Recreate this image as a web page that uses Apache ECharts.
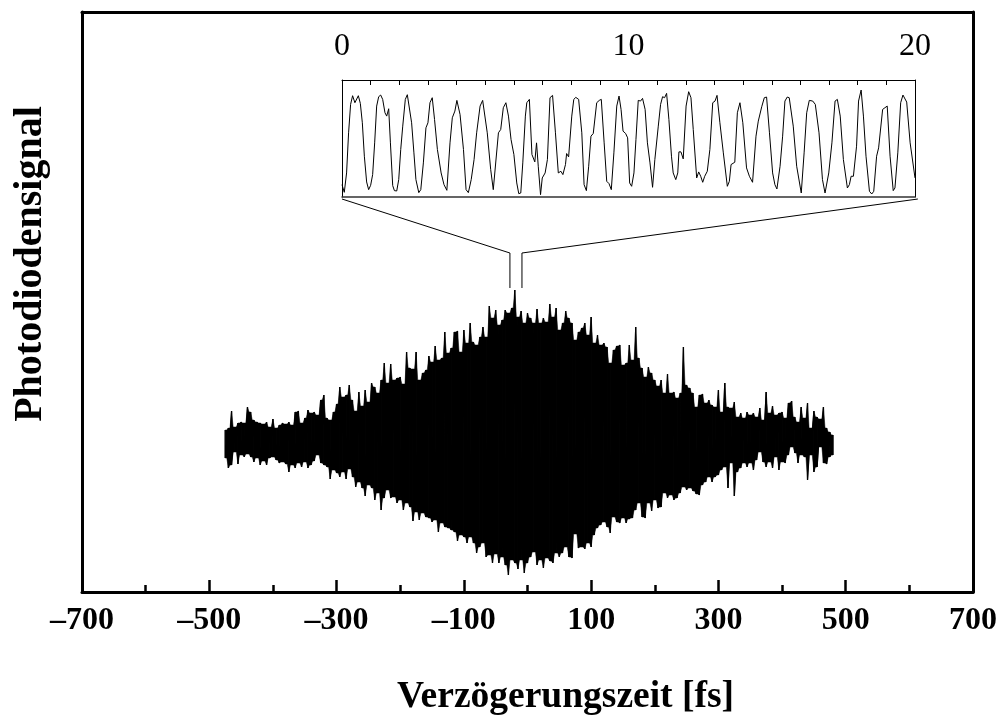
<!DOCTYPE html>
<html><head><meta charset="utf-8">
<style>html,body{margin:0;padding:0;background:#fff}#c{width:999px;height:718px}</style>
<script src="https://cdn.jsdelivr.net/npm/echarts@6/dist/echarts.min.js"></script>
</head><body><div id="c"></div>
<script>
// main trace: envelope of the fast oscillation, read every 5 fs from -475 fs to 480 fs
const startFs = -475, stepFs = 5;
const upper = [162,164,181,165,169,170,169,185,180,172,170,169,168,170,165,173,164,167,169,168,170,167,180,181,169,174,182,179,180,177,192,197,174,172,180,188,205,195,197,207,192,181,200,186,202,190,209,205,199,212,229,209,228,212,214,215,208,240,224,223,240,212,219,222,236,230,246,232,234,260,239,244,260,261,240,262,249,269,250,247,255,265,255,286,274,282,267,272,282,279,284,302,275,
281,269,279,274,269,283,269,274,270,288,275,284,262,269,281,274,269,252,260,264,269,257,275,249,257,247,249,245,229,242,246,247,227,229,247,232,265,234,224,215,225,219,212,206,212,199,218,199,200,194,199,245,207,204,199,185,197,198,189,192,187,185,202,180,209,185,184,190,175,179,174,180,177,179,175,184,172,200,179,186,177,179,180,174,189,191,175,170,185,174,189,164,181,175,173,185,164,160,157];
const lower = [134,124,127,140,128,137,135,138,135,130,134,127,131,127,134,135,132,129,130,128,120,127,124,129,125,130,124,127,131,137,129,127,125,113,122,119,115,120,113,123,115,105,110,104,96,107,104,92,99,82,94,102,94,95,89,92,82,89,85,71,80,72,79,75,74,70,72,60,69,65,64,62,60,51,57,55,49,55,49,39,45,49,35,37,29,38,29,35,27,17,32,29,23,
32,19,29,35,40,27,32,24,34,31,29,39,35,39,45,35,34,58,44,45,43,49,45,57,64,67,70,65,59,75,70,69,74,69,73,74,82,89,75,74,89,81,92,84,85,99,94,97,92,94,99,105,102,104,101,98,97,107,110,115,110,115,117,122,125,104,129,96,120,124,129,125,129,122,132,140,130,125,130,124,135,122,130,129,137,145,139,129,137,135,112,137,120,125,145,129,128,135,137];

// inset trace
const insetT = [0,0.08,0.16,0.23,0.30,0.37,0.45,0.51,0.57,0.64,0.71,0.78,0.86,0.93,1.00,1.07,1.14,1.21,1.28,1.35,1.42,1.50,1.56,1.63,1.69,1.77,1.83,1.91,1.98,2.05,2.12,2.21,2.28,2.34,2.43,2.51,2.58,2.68,2.75,2.84,2.93,3.00,3.07,3.15,3.23,3.33,3.46,3.56,3.66,3.77,3.85,3.94,4.01,4.12,4.24,4.33,4.41,4.51,4.61,4.70,4.82,4.91,4.97,5.07,5.19,5.28,5.33,5.46,5.54,5.63,5.72,5.81,5.90,6.00,6.10,6.17,6.24,6.31,6.40,6.45,6.54,6.63,6.73,6.79,6.85,6.93,6.99,7.09,7.17,7.26,7.35,7.45,7.55,7.64,7.71,7.80,7.84,7.91,8.02,8.09,8.16,8.26,8.37,8.45,8.53,8.61,8.69,8.77,8.89,8.98,9.05,9.15,9.24,9.32,9.40,9.49,9.59,9.67,9.74,9.81,9.90,9.97,10.04,
10.11,10.19,10.26,10.34,10.42,10.49,10.58,10.66,10.75,10.84,10.92,11.04,11.12,11.19,11.26,11.33,11.41,11.50,11.56,11.65,11.72,11.76,11.83,11.91,12.01,12.10,12.18,12.26,12.38,12.45,12.52,12.59,12.66,12.75,12.84,12.94,13.02,13.09,13.19,13.31,13.45,13.52,13.58,13.64,13.71,13.80,13.89,13.99,14.12,14.22,14.33,14.45,14.53,14.65,14.74,14.82,14.92,15.03,15.11,15.18,15.29,15.38,15.46,15.54,15.61,15.75,15.87,16.03,16.13,16.22,16.31,16.43,16.52,16.65,16.77,16.86,16.99,17.10,17.21,17.29,17.39,17.50,17.64,17.71,17.77,17.85,17.96,18.03,18.12,18.20,18.29,18.41,18.49,18.56,18.66,18.73,18.87,18.95,19.03,19.13,19.24,19.30,19.40,19.50,19.58,19.71,19.83,20];
const insetV = [37,14,72,192,277,303,282,284,303,280,222,122,45,22,35,67,162,272,300,305,292,252,242,264,162,34,19,18,52,142,212,292,306,307,222,132,52,13,22,102,207,222,282,297,232,142,72,37,20,162,237,257,289,247,142,22,13,52,112,192,272,289,284,192,82,22,19,192,202,267,282,242,172,127,42,10,12,102,242,282,292,127,105,162,92,7,57,72,112,297,304,192,72,77,67,97,130,120,242,292,298,292,192,37,19,92,182,190,282,289,292,162,47,40,22,132,272,302,262,197,190,177,42,
32,72,172,289,287,295,262,162,102,29,112,212,277,300,297,310,232,122,72,52,72,135,135,114,272,315,297,202,57,75,62,44,62,77,142,282,287,304,222,132,32,47,97,95,104,252,282,222,87,62,44,182,227,270,297,299,192,72,37,24,92,182,287,299,297,212,92,12,132,252,289,287,277,192,52,12,72,162,287,292,242,112,27,37,62,62,152,287,320,242,122,17,9,17,122,147,262,267,272,122,19,27,132,282,305,284,162,57];

// tick labels and annotation
const majorTicks = [-700,-500,-300,-100,100,300,500,700];
const minorTicks = [-600,-400,-200,0,200,400,600];
const insetLabels = [0,10,20];
const insetTicks = [0,1,2,3,4,5,6,7,8,9,10,11,12,13,14,15,16,17,18,19,20];
const calloutLeftFs = [-291.5,-27.6,-27.6];
const calloutRightFs = [613.4,-8.7,-8.7];
const calloutSignal = [393,339,304];

const xTitle = 'Verzögerungszeit [fs]';
const yTitle = 'Photodiodensignal';
const dash = v => String(v).replace('-', '–');
const serif = '"Liberation Serif","Times New Roman",serif';

// zigzag signal line
const zig = [];
const xs = upper.map((_, i) => startFs + i * stepFs);
xs.forEach((x, i) => { zig.push([x, upper[i]]); zig.push([x, lower[i]]); });
// solid body between neighbouring oscillations
const core = [];
for (let i = 0; i < xs.length - 1; i++) {
  core.push([xs[i], xs[i + 1], lower[i], upper[i], lower[i + 1], upper[i + 1]]);
}

const chart = echarts.init(document.getElementById('c'), null, { renderer: 'canvas' });
chart.setOption({
  backgroundColor: '#fff',
  animation: false,
  grid: [
    { left: 82, right: 26, top: 12, bottom: 126, outerBoundsMode: 'none', show: false },
    { left: 342, top: 80, width: 573, height: 117, outerBoundsMode: 'none', show: false }
  ],
  xAxis: [
    { gridIndex: 0, type: 'value', min: -700, max: 700, position: 'bottom', splitLine: { show: false },
      axisLine: { show: true, onZero: false, lineStyle: { color: '#000', width: 3 } },
      axisTick: { show: true, inside: true, length: 12, customValues: majorTicks, lineStyle: { color: '#000', width: 2.5 } },
      axisLabel: { show: true, customValues: majorTicks, formatter: dash, margin: 13, color: '#000', fontFamily: serif, fontWeight: 'bold', fontSize: 32 },
      name: xTitle, nameLocation: 'middle', nameGap: 86,
      nameTextStyle: { color: '#000', fontFamily: serif, fontWeight: 'bold', fontSize: 37.5, padding: [0, 0, 0, 76] } },
    { gridIndex: 0, type: 'value', min: -700, max: 700, position: 'bottom', splitLine: { show: false },
      axisLine: { show: false, onZero: false }, axisLabel: { show: false },
      axisTick: { show: true, inside: true, length: 7, customValues: minorTicks, lineStyle: { color: '#000', width: 2.5 } } },
    { gridIndex: 0, type: 'value', min: -700, max: 700, position: 'top', splitLine: { show: false },
      axisLine: { show: true, onZero: false, lineStyle: { color: '#000', width: 3 } }, axisLabel: { show: false }, axisTick: { show: false } },
    { gridIndex: 1, type: 'value', min: 0, max: 20, position: 'top', splitLine: { show: false },
      axisLine: { show: true, onZero: false, lineStyle: { color: '#000', width: 1 } },
      axisTick: { show: true, inside: true, length: 5, customValues: insetTicks, lineStyle: { color: '#000', width: 1 } },
      axisLabel: { show: true, customValues: insetLabels, margin: 17, color: '#000', fontFamily: serif, fontSize: 32 } },
    { gridIndex: 1, type: 'value', min: 0, max: 20, position: 'bottom', splitLine: { show: false },
      axisLine: { show: true, onZero: false, lineStyle: { color: '#333', width: 1.5 } }, axisTick: { show: false }, axisLabel: { show: false } }
  ],
  yAxis: [
    { gridIndex: 0, type: 'value', min: 0, max: 580, position: 'left', splitLine: { show: false },
      axisLine: { show: true, onZero: false, lineStyle: { color: '#000', width: 3 } }, axisTick: { show: false }, axisLabel: { show: false },
      name: yTitle, nameLocation: 'middle', nameGap: 31,
      nameTextStyle: { color: '#000', fontFamily: serif, fontWeight: 'bold', fontSize: 40, padding: [0, 0, 0, 76] } },
    { gridIndex: 0, type: 'value', min: 0, max: 580, position: 'right', splitLine: { show: false },
      axisLine: { show: true, onZero: false, lineStyle: { color: '#000', width: 3 } }, axisTick: { show: false }, axisLabel: { show: false } },
    { gridIndex: 1, type: 'value', min: 0, max: 350, position: 'left', splitLine: { show: false },
      axisLine: { show: true, onZero: false, lineStyle: { color: '#000', width: 1 } }, axisTick: { show: false }, axisLabel: { show: false } },
    { gridIndex: 1, type: 'value', min: 0, max: 350, position: 'right', splitLine: { show: false },
      axisLine: { show: true, onZero: false, lineStyle: { color: '#000', width: 1 } }, axisTick: { show: false }, axisLabel: { show: false } }
  ],
  series: [
    { type: 'custom', xAxisIndex: 0, yAxisIndex: 0, silent: true, data: core, encode: { x: [0, 1], y: [2, 3, 4, 5] },
      renderItem: (p, api) => {
        const x0 = api.value(0), x1 = api.value(1), mid = (x0 + x1) / 2;
        const lo0 = api.value(2), hi0 = api.value(3), lo1 = api.value(4), hi1 = api.value(5);
        const pts = [[x0, hi0], [mid, Math.min(hi0, hi1)], [x1, hi1], [x1, lo1], [mid, Math.max(lo0, lo1)], [x0, lo0]].map(q => api.coord(q));
        return { type: 'polygon', shape: { points: pts }, style: { fill: '#000', stroke: '#000', lineWidth: 0.5 } };
      } },
    { type: 'line', xAxisIndex: 0, yAxisIndex: 0, data: zig, showSymbol: false, symbol: 'none', silent: true,
      lineStyle: { color: '#000', width: 1.3, join: 'bevel' } },
    { type: 'line', xAxisIndex: 0, yAxisIndex: 0, data: calloutLeftFs.map((x, i) => [x, calloutSignal[i]]), showSymbol: false, symbol: 'none', silent: true,
      lineStyle: { color: '#000', width: 1 } },
    { type: 'line', xAxisIndex: 0, yAxisIndex: 0, data: calloutRightFs.map((x, i) => [x, calloutSignal[i]]), showSymbol: false, symbol: 'none', silent: true,
      lineStyle: { color: '#000', width: 1 } },
    { type: 'line', xAxisIndex: 3, yAxisIndex: 2, data: insetT.map((t, i) => [t, insetV[i]]), showSymbol: false, symbol: 'none', silent: true,
      clip: true, lineStyle: { color: '#000', width: 1 } }
  ]
});
</script></body></html>
